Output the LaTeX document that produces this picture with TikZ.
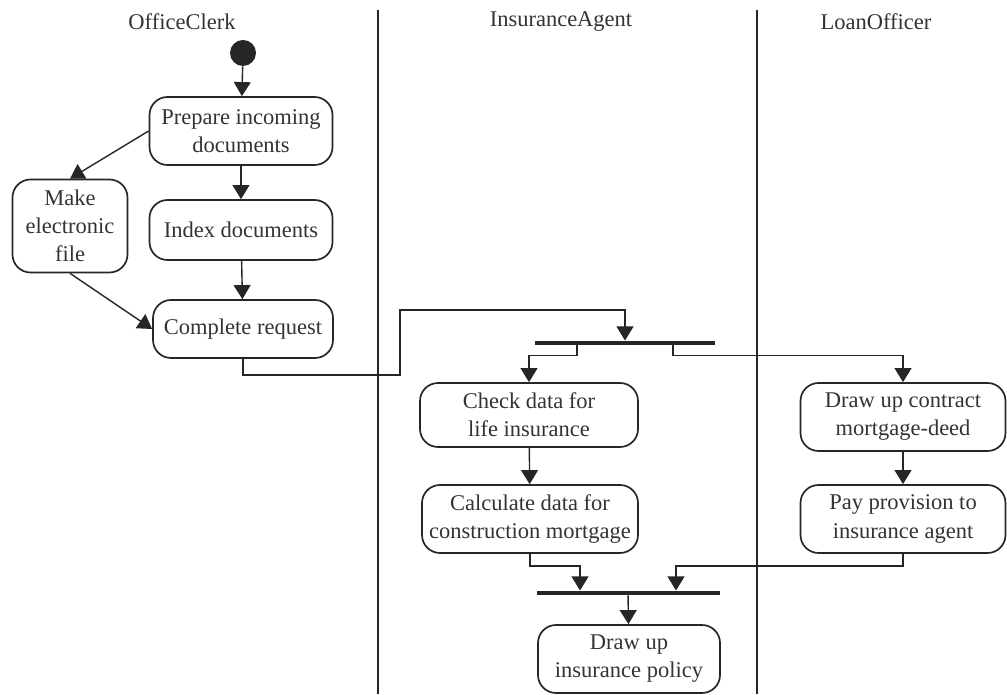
\documentclass[tikz,border=0pt]{standalone}
\usepackage{fontspec}
\setmainfont{Liberation Serif}
\usepackage{tikz}
\usetikzlibrary{positioning, calc, arrows.meta}

\begin{document}
\begin{tikzpicture}[
    box/.style={draw=black!85, line width=1.2pt, rounded corners=0.45cm,
                align=center, font=\fontsize{16}{20}\selectfont,
                text=black!80, inner sep=2pt},
    arw/.style={-{Triangle[width=12pt, length=10pt]}, line width=1pt, draw=black!85},
    bar/.style={fill=black!85, minimum height=0.11cm, inner sep=0pt},
    hdr/.style={font=\fontsize{16}{20}\selectfont, text=black!80},
    lane/.style={line width=1.3pt, draw=black!85},
]
\useasboundingbox (0,0) rectangle (25.175,17.35);

% swimlanes
\draw[lane] (9.45,17.1) -- (9.45,0);
\draw[lane] (18.925,17.1) -- (18.925,0);
\node[hdr] (h1) at (4.55,16.8) {OfficeClerk};
\node[hdr] (h2) at (14.025,16.8) {InsuranceAgent};
\node[hdr] (h3) at (21.9,16.8) {LoanOfficer};

% office clerk
\node[circle, fill=black!85, minimum size=0.65cm, inner sep=0pt] (start) at (6.075,16.025) {};
\node[box, minimum width=4.575cm, minimum height=1.7cm] (prep) at (6.025,14.075) {Prepare incoming\\documents};
\node[box, minimum width=4.575cm, minimum height=1.5cm] (idx) at (6.025,11.6) {Index documents};
\node[box, minimum width=4.5cm, minimum height=1.45cm] (compl) at (6.075,9.125) {Complete request};
\node[box, minimum width=2.875cm, minimum height=2.325cm] (efile) at (1.75,11.7) {Make\\electronic\\file};

% insurance agent
\node[bar, minimum width=4.5cm] (fork) at (15.625,8.775) {};
\node[box, minimum width=5.45cm, minimum height=1.6cm] (check) at (13.225,6.975) {Check data for\\life insurance};
\node[box, minimum width=5.4cm, minimum height=1.7cm] (calc) at (13.25,4.375) {Calculate data for\\construction mortgage};
\node[bar, minimum width=4.575cm] (join) at (15.7,2.525) {};
\node[box, minimum width=4.55cm, minimum height=1.7cm] (policy) at (15.725,0.875) {Draw up\\insurance policy};

% loan officer
\node[box, minimum width=5.125cm, minimum height=1.7cm] (deed) at (22.575,6.925) {Draw up contract\\mortgage-deed};
\node[box, minimum width=5.125cm, minimum height=1.7cm] (pay) at (22.575,4.375) {Pay provision to\\insurance agent};

\foreach \a/\b in {start/prep, prep/idx, idx/compl, check/calc, deed/pay, join/policy}
    \draw[arw] (\a) -- (\b);

\draw[arw] (prep.west) -- (efile.north);
\draw[arw] (efile.south) -- (compl.west);
\draw[arw] (compl.south) |- (10,7.975) -- (10,9.6) -| (fork.north);
\draw[arw] ([xshift=-1.2cm]fork.south) -- ++(0,-0.25) -| (check.north);
\draw[arw] ([xshift=1.2cm]fork.south) -- ++(0,-0.25) -| (deed.north);
\draw[arw] (calc.south) -- ++(0,-0.3) -| ([xshift=-1.2cm]join.north);
\draw[arw] (pay.south) -- ++(0,-0.3) -| ([xshift=1.2cm]join.north);
\end{tikzpicture}
\end{document}
